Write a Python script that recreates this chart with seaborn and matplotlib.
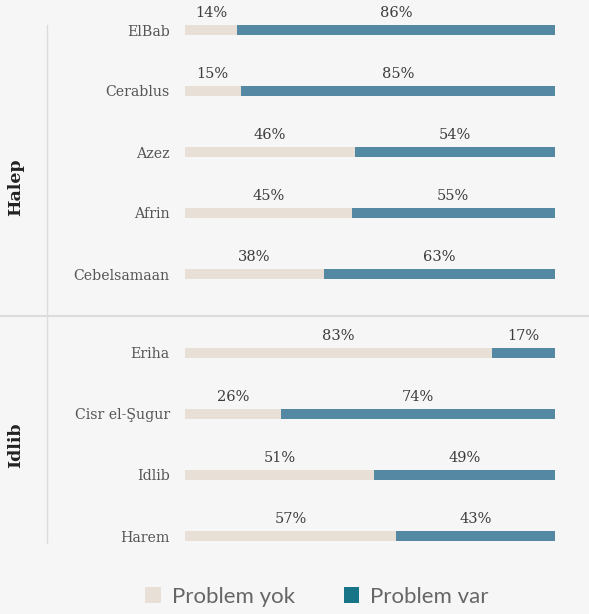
import numpy as np
import pandas as pd
import seaborn as sns
import matplotlib.pyplot as plt
from matplotlib.patches import Patch
from matplotlib.lines import Line2D

# data
halep_cities = ["ElBab", "Cerablus", "Azez", "Afrin", "Cebelsamaan"]
halep_yok = [14, 15, 46, 45, 38]
halep_var = [86, 85, 54, 55, 63]

idlib_cities = ["Eriha", "Cisr el-Şugur", "Idlib", "Harem"]
idlib_yok = [83, 26, 51, 57]
idlib_var = [17, 74, 49, 43]

legend_labels = ["Problem yok", "Problem var"]

bg = "#f5f6f5"
beige = "#e8e0d6"
teal_bar = "#5488a3"
teal_legend = "#177587"

sns.set_theme(style="white", rc={"figure.facecolor": bg, "axes.facecolor": bg})
plt.rcParams["font.family"] = ["DejaVu Serif"]

W, H = 589, 614
fig = plt.figure(figsize=(W / 100, H / 100), dpi=100)

def px_axes(top, bottom):
    return fig.add_axes([185 / W, 1 - bottom / H, 370 / W, (bottom - top) / H])

def draw_group(ax, cities, yok, var, first_px, top_px, bottom_px):
    df = pd.DataFrame({"city": cities, "yok": yok, "var": var})
    df["total"] = df["yok"] + df["var"]
    df["yok_share"] = df["yok"] / df["total"]
    df["full"] = 1.0
    sns.barplot(data=df, x="full", y="city", order=cities, color=teal_bar,
                width=0.18, saturation=1, linewidth=0, ax=ax)
    sns.barplot(data=df, x="yok_share", y="city", order=cities, color=beige,
                width=0.18, saturation=1, linewidth=0, ax=ax)
    for i, row in df.iterrows():
        s = row["yok_share"]
        ax.annotate(f"{row['yok']}%", (s / 2, i), xytext=(0, 12.5), textcoords="offset points",
                    ha="center", va="center", fontsize=10.5, color="#3c3c3c")
        ax.annotate(f"{row['var']}%", ((1 + s) / 2, i), xytext=(0, 12.5), textcoords="offset points",
                    ha="center", va="center", fontsize=10.5, color="#3c3c3c")
    unit = 61.0
    ax.set_ylim((bottom_px - first_px) / unit, -(first_px - top_px) / unit)
    ax.set_xlim(0, 1)
    ax.set_xlabel("")
    ax.set_ylabel("")
    ax.set_xticks([])
    ax.tick_params(axis="y", length=0, pad=11, labelsize=10.2, labelcolor="#555555")
    sns.despine(ax=ax, left=True, bottom=True)

ax1 = px_axes(0, 316)
draw_group(ax1, halep_cities, halep_yok, halep_var, 30, 0, 316)
ax2 = px_axes(316, 560)
draw_group(ax2, idlib_cities, idlib_yok, idlib_var, 353, 316, 560)

# separators
fig.add_artist(Line2D([0, 1], [1 - 316 / H, 1 - 316 / H], color="#dcdcdc", lw=1.5))
fig.add_artist(Line2D([47 / W, 47 / W], [1 - 25 / H, 1 - 543 / H], color="#dcdcdc", lw=1))

# group labels
fig.text(16 / W, 1 - 187 / H, "Halep", rotation=90, ha="center", va="center",
         fontsize=12.5, fontweight="bold", color="#222222")
fig.text(16 / W, 1 - 445 / H, "Idlib", rotation=90, ha="center", va="center",
         fontsize=12.5, fontweight="bold", color="#222222")

handles = [Patch(facecolor=beige, edgecolor="none"), Patch(facecolor=teal_legend, edgecolor="none")]
fig.legend(handles, legend_labels, loc="center", bbox_to_anchor=(317 / W, 1 - 597 / H), ncol=2,
           frameon=False, handlelength=0.7, handleheight=0.7, handletextpad=0.5, columnspacing=2.2,
           prop={"family": "Lato", "size": 16}, labelcolor="#666666")

fig.savefig("out.png", dpi=100, facecolor=bg)
